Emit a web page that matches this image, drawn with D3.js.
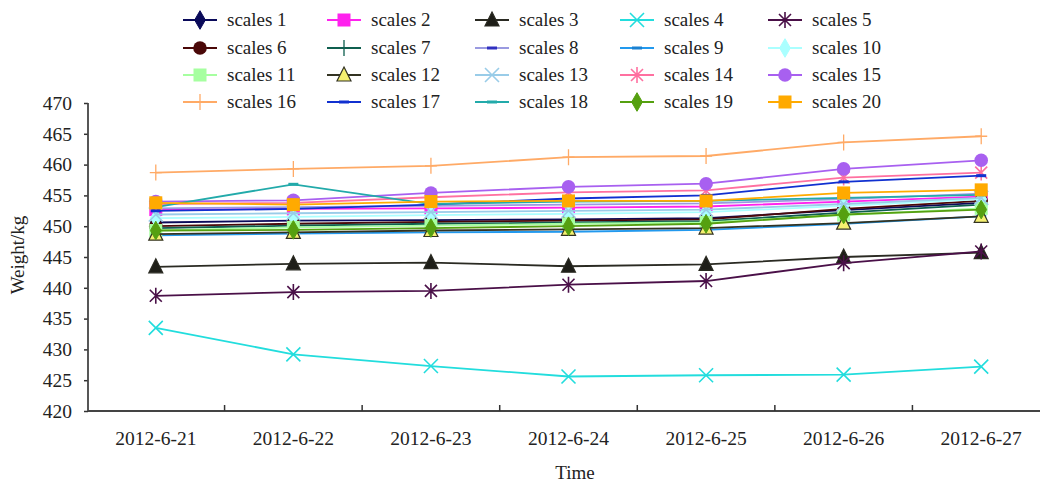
<!DOCTYPE html>
<html>
<head>
<meta charset="utf-8"/>
<script src="https://cdn.jsdelivr.net/npm/d3@7"></script>
<style>
  body { margin: 0; background: #fff; }
  text { font-family: "Liberation Serif", "Times New Roman", serif; fill: #222; }
</style>
</head>
<body>
<script>
var W = 1040, H = 483;

// data
var dates = ["2012-6-21", "2012-6-22", "2012-6-23", "2012-6-24", "2012-6-25", "2012-6-26", "2012-6-27"];
var yTicks = [420, 425, 430, 435, 440, 445, 450, 455, 460, 465, 470];
var names = ["scales 1", "scales 2", "scales 3", "scales 4", "scales 5", "scales 6", "scales 7", "scales 8", "scales 9", "scales 10",
             "scales 11", "scales 12", "scales 13", "scales 14", "scales 15", "scales 16", "scales 17", "scales 18", "scales 19", "scales 20"];
var s1  = [450.6, 450.9, 451.0, 451.1, 451.3, 452.6, 453.8];
var s2  = [452.7, 452.8, 452.9, 453.0, 453.2, 454.0, 454.8];
var s3  = [443.4, 443.9, 444.1, 443.5, 443.8, 445.0, 445.7];
var s4  = [433.5, 429.2, 427.3, 425.6, 425.8, 425.9, 427.2];
var s5  = [438.7, 439.3, 439.5, 440.5, 441.1, 444.0, 445.9];
var s6  = [450.0, 450.4, 450.7, 450.9, 451.1, 452.8, 454.1];
var s7  = [449.7, 450.1, 450.4, 450.6, 450.8, 452.2, 453.5];
var s8  = [452.9, 453.1, 453.3, 453.5, 453.7, 454.4, 455.3];
var s9  = [448.5, 448.8, 449.0, 449.1, 449.4, 450.4, 451.6];
var s10 = [451.3, 451.5, 451.8, 452.0, 452.3, 453.3, 454.4];
var s11 = [449.3, 449.8, 450.1, 450.4, 450.6, 451.8, 452.9];
var s12 = [448.7, 449.0, 449.3, 449.5, 449.7, 450.5, 451.6];
var s13 = [451.9, 452.1, 452.3, 452.5, 452.7, 453.6, 454.6];
var s14 = [453.6, 453.8, 454.7, 455.5, 455.8, 457.9, 458.7];
var s15 = [454.0, 454.2, 455.4, 456.4, 456.9, 459.3, 460.7];
var s16 = [458.7, 459.3, 459.8, 461.2, 461.4, 463.6, 464.6];
var s17 = [452.5, 452.8, 453.5, 454.5, 455.0, 457.2, 458.2];
var s18 = [453.1, 456.8, 453.6, 454.0, 454.1, 454.6, 455.1];
var s19 = [449.3, 449.4, 449.7, 450.0, 450.4, 451.9, 452.7];
var s20 = [453.8, 453.5, 454.0, 454.1, 454.1, 455.4, 455.9];
var values = [s1, s2, s3, s4, s5, s6, s7, s8, s9, s10, s11, s12, s13, s14, s15, s16, s17, s18, s19, s20];

// line colour, marker type, marker fill
var styles = [
  {c: "#0a0a5a", m: "diamond", f: "#0a0a5a"},
  {c: "#ff22ee", m: "square", f: "#ff22ee"},
  {c: "#2a2a22", m: "triangle", f: "#1e1e18"},
  {c: "#22dddd", m: "x", f: "none"},
  {c: "#4a1048", m: "star", f: "none"},
  {c: "#4a0808", m: "circle", f: "#4a0808"},
  {c: "#0f5f4f", m: "plus", f: "none"},
  {c: "#9a9ae0", m: "dash", f: "#3030c0"},
  {c: "#2299ee", m: "dash", f: "#1a80d0"},
  {c: "#aaffff", m: "diamond", f: "#aaffff"},
  {c: "#a6ffa0", m: "square", f: "#a6ffa0"},
  {c: "#333322", m: "triangle", f: "#f5f070"},
  {c: "#99cce8", m: "x", f: "none"},
  {c: "#ff70a0", m: "star", f: "none"},
  {c: "#a860f0", m: "circle", f: "#a860f0"},
  {c: "#ffaa66", m: "plus", f: "none"},
  {c: "#1030d0", m: "dash", f: "#1030d0"},
  {c: "#22aaaa", m: "dash", f: "#22aaaa"},
  {c: "#55a010", m: "diamond", f: "#55a010"},
  {c: "#ffaa00", m: "square", f: "#ffaa00"}
];

var svg = d3.select("body").append("svg")
  .attr("width", W).attr("height", H);

var x = d3.scaleBand().domain(dates).range([87, 1050]);
var y = d3.scaleLinear().domain([420, 470]).range([411, 103]);
var cx = function(d) { return x(d) + x.bandwidth() / 2; };

function drawMarker(g, type, col, fill) {
  if (type == "diamond") {
    g.append("path").attr("d", d3.symbol(d3.symbolDiamond, 100)()).attr("fill", fill).attr("stroke", col);
  } else if (type == "square") {
    g.append("rect").attr("x", -6.5).attr("y", -6.5).attr("width", 13).attr("height", 13).attr("fill", fill);
  } else if (type == "triangle") {
    g.append("path").attr("d", "M0,-8L7,6L-7,6Z").attr("fill", fill).attr("stroke", col).attr("stroke-width", 1.2);
  } else if (type == "circle") {
    g.append("circle").attr("r", 6.8).attr("fill", fill);
  } else if (type == "x") {
    g.append("path").attr("d", "M-7,-7L7,7M-7,7L7,-7").attr("stroke", col).attr("stroke-width", 1.6);
  } else if (type == "star") {
    g.append("path").attr("d", "M-6,-6L6,6M-6,6L6,-6M0,-8L0,8").attr("stroke", col).attr("stroke-width", 1.6);
  } else if (type == "plus") {
    g.append("path").attr("d", "M-6,0L6,0M0,-8L0,8").attr("stroke", col).attr("stroke-width", 1.3);
  } else if (type == "dash") {
    g.append("path").attr("d", "M-5,0L5,0").attr("stroke", fill).attr("stroke-width", 3);
  }
}

// axes
var yAxis = svg.append("g").attr("transform", "translate(88,0)")
  .call(d3.axisLeft(y).tickValues(yTicks).tickSize(4).tickPadding(12));
var xAxis = svg.append("g").attr("transform", "translate(0,411)")
  .call(d3.axisBottom(x).tickSize(0).tickPadding(20));
svg.selectAll(".domain").remove();
yAxis.selectAll("text").style("font-size", "19.5px");
yAxis.selectAll("line").attr("stroke", "#333").attr("stroke-width", 1.5);
xAxis.selectAll("text").style("font-size", "19.5px");

svg.append("line").attr("x1", 88).attr("x2", 88).attr("y1", 103).attr("y2", 411)
  .attr("stroke", "#444").attr("stroke-width", 1.8);
svg.append("line").attr("x1", 88).attr("x2", 1040).attr("y1", 411).attr("y2", 411)
  .attr("stroke", "#444").attr("stroke-width", 1.8);
svg.selectAll(".xt").data(dates.slice(1)).enter().append("line")
  .attr("x1", function(d) { return x(d); }).attr("x2", function(d) { return x(d); })
  .attr("y1", 411).attr("y2", 405).attr("stroke", "#333").attr("stroke-width", 1.5);

svg.append("text").attr("transform", "translate(24,255) rotate(-90)")
  .attr("text-anchor", "middle").style("font-size", "19px").text("Weight/kg");
svg.append("text").attr("x", 575).attr("y", 479)
  .attr("text-anchor", "middle").style("font-size", "19px").text("Time");

// series
var line = d3.line().x(function(d, i) { return cx(dates[i]); }).y(function(d) { return y(d); });
values.forEach(function(v, k) {
  var st = styles[k];
  var g = svg.append("g");
  g.append("path").attr("d", line(v)).attr("fill", "none")
    .attr("stroke", st.c).attr("stroke-width", 1.8);
  v.forEach(function(d, i) {
    var m = g.append("g").attr("transform", "translate(" + cx(dates[i]) + "," + y(d) + ")");
    drawMarker(m, st.m, st.c, st.f);
  });
});

// legend
var colX = [183, 327, 475, 620, 768];
var rowY = [20, 48, 75, 102];
names.forEach(function(n, k) {
  var st = styles[k];
  var g = svg.append("g").attr("transform", "translate(" + colX[k % 5] + "," + rowY[Math.floor(k / 5)] + ")");
  g.append("line").attr("x1", 0).attr("x2", 34).attr("stroke", st.c).attr("stroke-width", 1.8);
  drawMarker(g.append("g").attr("transform", "translate(17,0)"), st.m, st.c, st.f);
  g.append("text").attr("x", 44).attr("y", 6).style("font-size", "19px").text(n);
});
</script>
</body>
</html>
